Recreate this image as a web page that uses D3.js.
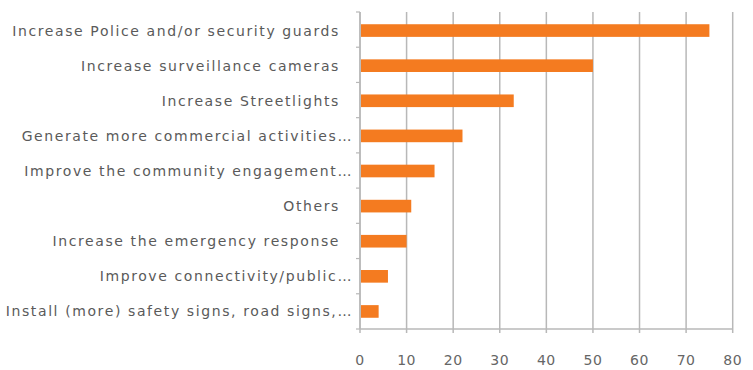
<!DOCTYPE html>
<html><head><meta charset="utf-8">
<script src="https://cdn.jsdelivr.net/npm/d3@7"></script>
<style>
body{margin:0;background:#fff;}
text{font-family:"DejaVu Sans",sans-serif;}
</style></head>
<body><svg id="c" width="753" height="370"></svg>
<script>
const categories = [
  "Increase Police and/or security guards",
  "Increase surveillance cameras",
  "Increase Streetlights",
  "Generate more commercial activities…",
  "Improve the community engagement…",
  "Others",
  "Increase the emergency response",
  "Improve connectivity/public…",
  "Install (more) safety signs, road signs,…"
];
const values = [75, 50, 33, 22, 16, 11, 10, 6, 4];
const xTicks = [0, 10, 20, 30, 40, 50, 60, 70, 80];

const svg = d3.select("#c");
const m = {left: 360, right: 20, top: 12, bottom: 41};
const W = 753, H = 370;
const x = d3.scaleLinear().domain([0, 80]).range([m.left, 732.7]);
const y = d3.scaleBand().domain(categories).range([m.top + 1, H - m.bottom]).paddingInner(0.64).paddingOuter(0.32);

// gridlines
svg.append("g").selectAll("line").data(xTicks).join("line")
  .attr("x1", d => x(d)).attr("x2", d => x(d))
  .attr("y1", m.top).attr("y2", H - m.bottom + 4)
  .attr("stroke", "#b8b8b8").attr("stroke-width", 1.5);

// bars
svg.append("g").selectAll("rect").data(values).join("rect")
  .attr("x", x(0) + 1)
  .attr("y", (d, i) => y(categories[i]))
  .attr("width", d => x(d) - x(0) - 1)
  .attr("height", y.bandwidth())
  .attr("fill", "#f47b20");

// x axis line
svg.append("line").attr("x1", x(0)).attr("x2", x(80))
  .attr("y1", H - m.bottom).attr("y2", H - m.bottom)
  .attr("stroke", "#b8b8b8").attr("stroke-width", 1.5);

// y axis line and ticks
svg.append("line").attr("x1", x(0)).attr("x2", x(0))
  .attr("y1", m.top).attr("y2", H - m.bottom)
  .attr("stroke", "#b8b8b8").attr("stroke-width", 1.5);
const step = (H - m.bottom - m.top) / categories.length;
svg.append("g").selectAll("line").data(d3.range(categories.length + 1)).join("line")
  .attr("x1", x(0) - 4).attr("x2", x(0))
  .attr("y1", i => m.top + i * step).attr("y2", i => m.top + i * step)
  .attr("stroke", "#b8b8b8").attr("stroke-width", 1.2);

// x tick labels
svg.append("g").selectAll("text").data(xTicks).join("text")
  .attr("x", d => x(d)).attr("y", 365)
  .attr("text-anchor", "middle")
  .attr("font-size", 14).attr("fill", "#666")
  .attr("letter-spacing", 0.5)
  .text(d => d);

// category labels
svg.append("g").selectAll("text").data(categories).join("text")
  .attr("x", d => d.endsWith("…") ? 353 : 340)
  .attr("y", d => y(d) + y.bandwidth() / 2 + 5)
  .attr("text-anchor", "end")
  .attr("font-size", 14).attr("fill", "#5a5a5a")
  .attr("letter-spacing", 1.6)
  .text(d => d);
</script></body></html>
